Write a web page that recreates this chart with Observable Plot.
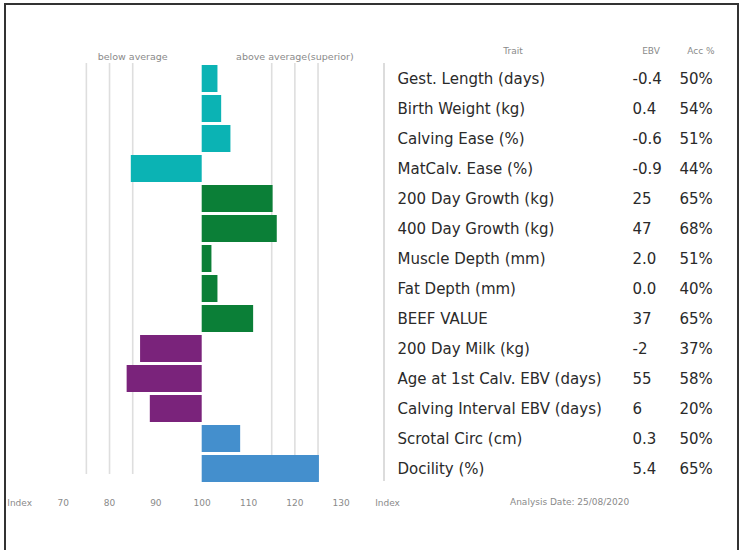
<!DOCTYPE html>
<html>
<head>
<meta charset="utf-8">
<script src="https://cdn.jsdelivr.net/npm/d3@7"></script>
<script src="https://cdn.jsdelivr.net/npm/@observablehq/plot@0.6"></script>
<style>
  html, body { margin: 0; padding: 0; background: #fff; }
  #wrap { position: relative; width: 747px; height: 550px; overflow: hidden; font-family: "DejaVu Sans", sans-serif; }
  #wrap > .layer { position: absolute; top: 0; }
  .frame { position: absolute; left: 4px; top: 3px; width: 735px; height: 560px; border: 2px solid #333; border-bottom: none; box-sizing: border-box; }
  .sep { position: absolute; left: 383px; top: 63px; width: 2px; height: 418px; background: #dcdcdc; }
  .lbl { position: absolute; font-size: 9px; color: #8a8a8a; white-space: nowrap; }
</style>
</head>
<body>
<div id="wrap">
  <div class="frame"></div>
  <div class="sep"></div>
</div>
<script>
// ---- data ----
const traits = [
  "Gest. Length (days)", "Birth Weight (kg)", "Calving Ease (%)", "MatCalv. Ease (%)",
  "200 Day Growth (kg)", "400 Day Growth (kg)", "Muscle Depth (mm)", "Fat Depth (mm)",
  "BEEF VALUE", "200 Day Milk (kg)", "Age at 1st Calv. EBV (days)", "Calving Interval EBV (days)",
  "Scrotal Circ (cm)", "Docility (%)"
];
const groups = [
  "calving", "calving", "calving", "calving",
  "growth", "growth", "growth", "growth", "growth",
  "maternal", "maternal", "maternal",
  "other", "other"
];
const indexValues = [103.4, 104.2, 106.2, 84.7, 115.3, 116.2, 102.1, 103.4, 111.1, 86.7, 83.8, 88.8, 108.3, 125.3];
const ebvLabels = ["-0.4", "0.4", "-0.6", "-0.9", "25", "47", "2.0", "0.0", "37", "-2", "55", "6", "0.3", "5.4"];
const accLabels = ["50%", "54%", "51%", "44%", "65%", "68%", "51%", "40%", "65%", "37%", "58%", "20%", "50%", "65%"];
const groupNames = ["calving", "growth", "maternal", "other"];
const groupColors = ["#0bb3b4", "#0b7f37", "#7a237b", "#448fcd"];
const gridValues = [75, 80, 85, 115, 120, 125];
const tickValues = [60.6, 70, 80, 90, 100, 110, 120, 130, 140];
const sideLabels = [{x: 85, label: "below average"}, {x: 120, label: "above average(superior)"}];
const columnHeaders = ["Trait", "EBV", "Acc %"];
const analysisDate = "Analysis Date: 25/08/2020";

const rows = traits.map((t, i) => ({trait: t, group: groups[i], index: indexValues[i], ebv: ebvLabels[i], acc: accLabels[i]}));

const wrap = document.getElementById("wrap");
const FONT = "'DejaVu Sans', sans-serif";
const yScale = () => ({type: "band", domain: traits, range: [64, 483], paddingInner: 0.1, paddingOuter: 0, axis: null});

// ---- bar chart ----
const bars = Plot.plot({
  width: 420, height: 550,
  marginTop: 63, marginBottom: 76, marginLeft: 0, marginRight: 0,
  style: {background: "transparent", fontFamily: FONT},
  x: {domain: [70, 130], range: [62.7, 340.7]},
  y: yScale(),
  color: {domain: groupNames, range: groupColors},
  marks: [
    Plot.ruleX(gridValues, {stroke: "#dedede", strokeWidth: 1.6}),
    Plot.barX(rows, {x1: 100, x2: "index", y: "trait", fill: "group"}),
    Plot.axisX(tickValues, {anchor: "bottom", tickSize: 0, tickPadding: 25, fontSize: 9, fill: "#8a8a8a",
      tickFormat: d => (d < 70 || d > 130) ? "Index" : String(d), label: null}),
    Plot.text(sideLabels, {x: "x", text: "label", frameAnchor: "top", dy: -10, fontSize: 9.5, fill: "#8a8a8a"})
  ]
});
bars.classList.add("layer");
bars.style.left = "0px";
wrap.appendChild(bars);

// ---- table columns ----
function column(key, left, width) {
  const p = Plot.plot({
    width, height: 550, margin: 0,
    style: {background: "transparent", fontFamily: FONT},
    y: yScale(),
    marks: [Plot.text(rows, {y: "trait", text: key, frameAnchor: "left", fontSize: 15, fill: "#2a2a2a"})]
  });
  p.classList.add("layer");
  p.style.left = left + "px";
  wrap.appendChild(p);
}
column("trait", 397, 234);
column("ebv", 632, 46);
column("acc", 679, 62);

// ---- header / footer labels ----
function label(text, left, top, align) {
  const d = document.createElement("div");
  d.className = "lbl";
  d.textContent = text;
  d.style.left = left + "px";
  d.style.top = top + "px";
  if (align === "center") d.style.transform = "translateX(-50%)";
  wrap.appendChild(d);
}
label(columnHeaders[0], 513, 46, "center");
label(columnHeaders[1], 651, 46, "center");
label(columnHeaders[2], 701, 46, "center");
label(analysisDate, 510, 497);
</script>
</body>
</html>
